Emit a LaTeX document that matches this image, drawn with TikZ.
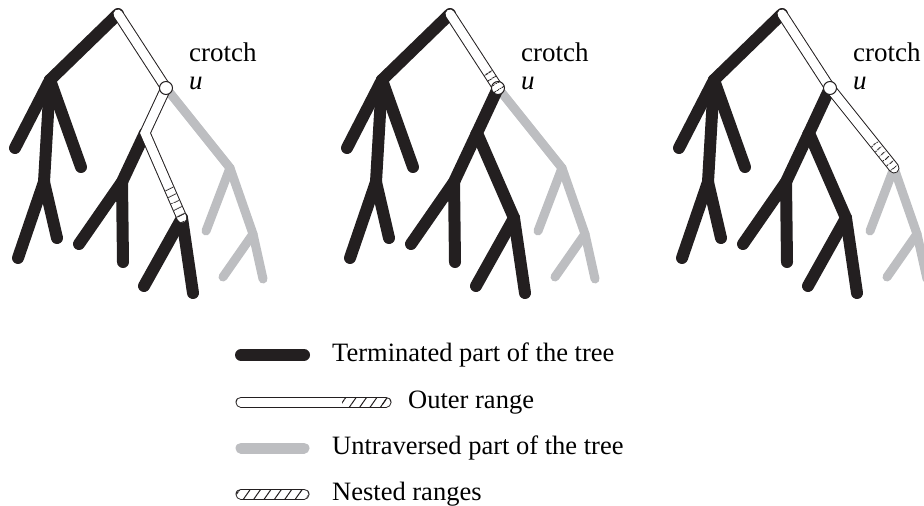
\documentclass[tikz,border=0pt]{standalone}
\usepackage{fontspec}
\setmainfont{Liberation Serif}
\usepackage{tikz}
\usetikzlibrary{
	positioning,
	calc,
	patterns.meta
}

\definecolor{termblack}{RGB}{35,31,32}
\definecolor{untravgray}{RGB}{189,190,193}

\begin{document}
\begin{tikzpicture}[
    x=1pt, y=-1pt,
    node distance=26pt,
    term/.style={draw=termblack, line width=12pt, line cap=round},
    untrav/.style={draw=untravgray, line width=9pt, line cap=round},
    tubeedge/.style={draw=termblack, line width=11pt, line cap=round},
    tubefill/.style={draw=white, line width=9pt, line cap=round},
    hatched/.style={pattern={Lines[angle=#1, distance=6.5pt, line width=1pt]}, pattern color=termblack},
    keyhatched/.style={pattern={Lines[angle=55, distance=8.5pt, line width=1pt]}, pattern color=termblack},
    crotchpt/.style={circle, draw=termblack, line width=1pt, fill=white, minimum size=13pt, inner sep=0pt},
    lbl/.style={font=\fontsize{26.5}{29}\selectfont, inner sep=0pt, anchor=west, text height=13pt, text depth=0pt},
    crotchlbl/.style={font=\fontsize{27}{28}\selectfont, inner sep=0pt, anchor=north west, align=left}
]
\useasboundingbox (0,0) rectangle (924,506);
\clip (0,0) rectangle (924,506);

% the same tree three times
\foreach \t/\dx in {1/0,2/332,3/664}{
  \begin{scope}[xshift=\dx pt]
    \coordinate (r\t) at (118,14);
    \coordinate (a\t) at (50,80);
    \coordinate (al\t) at (15,148);
    \coordinate (ar\t) at (81,167);
    \coordinate (c\t) at (44,182);
    \coordinate (cl\t) at (18,258);
    \coordinate (cr\t) at (57,238);
    \coordinate (u\t) at (166,88);
    \coordinate (b\t) at (145,133);
    \coordinate (d\t) at (122,182);
    \coordinate (dl\t) at (79,244);
    \coordinate (dr\t) at (123,262);
    \coordinate (e\t) at (182,218);
    \coordinate (el\t) at (144,286);
    \coordinate (er\t) at (193,293);
    \coordinate (f\t) at (230,168);
    \coordinate (fl\t) at (206,231);
    \coordinate (g\t) at (253,234);
    \coordinate (gl\t) at (223,277);
    \coordinate (gr\t) at (263,279);
  \end{scope}
  \draw[untrav] (u\t) -- (f\t) -- (g\t) -- (gr\t);
  \draw[untrav] (f\t) -- (fl\t);
  \draw[untrav] (g\t) -- (gl\t);
  \draw[term] (r\t) -- (a\t) -- (al\t);
  \draw[term] (a\t) -- (ar\t);
  \draw[term] (a\t) -- (c\t) -- (cl\t);
  \draw[term] (c\t) -- (cr\t);
  \draw[term] (b\t) -- (d\t) -- (dl\t);
  \draw[term] (d\t) -- (dr\t);
  \draw[term] (e\t) -- (el\t);
  \draw[term] (e\t) -- (er\t);
  \node[crotchlbl] (lab\t) at ($(u\t)+(23,-45)$) {crotch\\\textit{u}};
}

% tree 1: outer range down to e
\draw[tubeedge] (r1) -- (u1) -- (b1) -- (e1);
\draw[tubefill] (r1) -- (u1) -- (b1) -- (e1);
\coordinate (h1) at ($(b1)!0.62!(e1)$);
\fill[hatched=26] ($(h1)!4.5pt!90:(e1)$) -- ($(e1)!4.5pt!-90:(h1)$) -- ($(e1)!4.5pt!90:(h1)$) -- ($(h1)!4.5pt!-90:(e1)$) -- cycle;
\fill[hatched=26] (e1) circle (4.5pt);
\node[crotchpt] (cu1) at (u1) {};

% tree 2: outer range ends at the crotch
\draw[term] (u2) -- (b2) -- (e2);
\draw[tubeedge] (r2) -- (u2);
\draw[tubefill] (r2) -- (u2);
\coordinate (h2) at ($(r2)!0.74!(u2)$);
\fill[hatched=33] ($(h2)!4.5pt!90:(u2)$) -- ($(u2)!4.5pt!-90:(h2)$) -- ($(u2)!4.5pt!90:(h2)$) -- ($(h2)!4.5pt!-90:(u2)$) -- cycle;
\node[crotchpt, preaction={fill=white}, hatched=33] (cu2) at (u2) {};

% tree 3: outer range down to f
\draw[term] (u3) -- (b3) -- (e3);
\draw[tubeedge] (r3) -- (u3) -- (f3);
\draw[tubefill] (r3) -- (u3) -- (f3);
\coordinate (h3) at ($(u3)!0.66!(f3)$);
\fill[hatched=39] ($(h3)!4.5pt!90:(f3)$) -- ($(f3)!4.5pt!-90:(h3)$) -- ($(f3)!4.5pt!90:(h3)$) -- ($(h3)!4.5pt!-90:(f3)$) -- cycle;
\fill[hatched=39] (f3) circle (4.5pt);
\node[crotchpt] (cu3) at (u3) {};

% legend
\coordinate (k1a) at (241,355);
\coordinate (k1b) at (304,355);
\draw[term] (k1a) -- (k1b);
\node[lbl, right=28pt of k1b] (k1t) {Terminated part of the tree};

\coordinate (k2a) at (241,402);
\coordinate (k2b) at (386,402);
\draw[tubeedge] (k2a) -- (k2b);
\draw[tubefill] (k2a) -- (k2b);
\fill[keyhatched] ($(k2b)+(-44,-4.5)$) rectangle ($(k2b)+(0,4.5)$);
\fill[keyhatched] (k2b) circle (4.5pt);
\node[lbl, right=22pt of k2b] (k2t) {Outer range};

\coordinate (k3a) at (241,448);
\coordinate (k3b) at (304,448);
\draw[untrav, line width=11pt] (k3a) -- (k3b);
\node[lbl, right=28pt of k3b] (k3t) {Untraversed part of the tree};

\coordinate (k4a) at (241,494);
\coordinate (k4b) at (304,494);
\draw[tubeedge] (k4a) -- (k4b);
\draw[tubefill] (k4a) -- (k4b);
\fill[keyhatched] ($(k4a)+(0,-4.5)$) rectangle ($(k4b)+(0,4.5)$);
\fill[keyhatched] (k4a) circle (4.5pt);
\fill[keyhatched] (k4b) circle (4.5pt);
\node[lbl, right=28pt of k4b] (k4t) {Nested ranges};
\end{tikzpicture}
\end{document}
